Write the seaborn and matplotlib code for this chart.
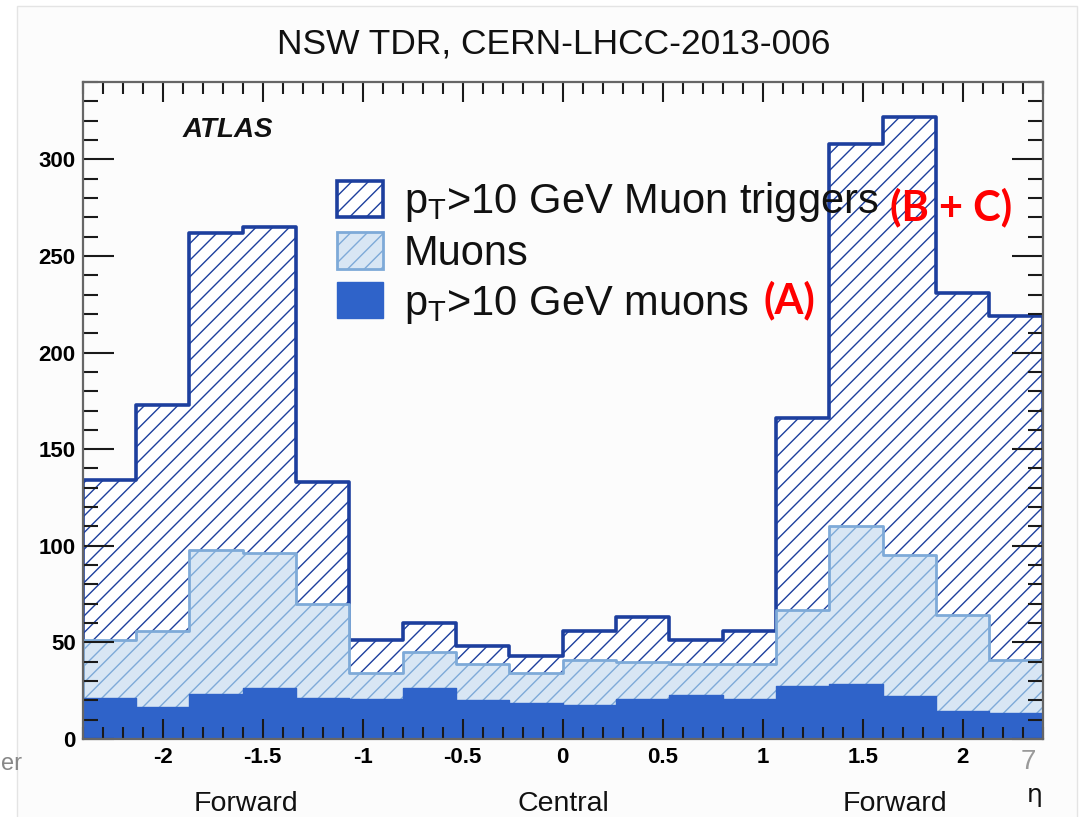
import numpy as np
import pandas as pd
import matplotlib
matplotlib.use("Agg")
import matplotlib.pyplot as plt
from matplotlib.patches import Rectangle
import seaborn as sns
from matplotlib.ticker import MultipleLocator

# ---------------- data ----------------
eta_edges = [round(v, 6) for v in np.linspace(-2.4, 2.4, 19)]
triggers = [134, 173, 262, 265, 133, 51, 60, 48, 43, 56, 63, 51, 56, 166, 308, 322, 231, 219]
muons = [51, 56, 98, 96, 70, 34, 45, 39, 34, 41, 40, 39, 39, 67, 110, 95, 64, 41]
pt_muons = [21, 16.5, 23.5, 26.5, 21, 20.5, 26.5, 20, 18.5, 17.5, 20.5, 23, 20.5, 27.5, 28.5, 22, 14.5, 13.5]
xtick_values = [-2, -1.5, -1, -0.5, 0, 0.5, 1, 1.5, 2]
xtick_labels = ["-2", "-1.5", "-1", "-0.5", "0", "0.5", "1", "1.5", "2"]
ytick_values = [0, 50, 100, 150, 200, 250, 300]
ytick_labels = ["0", "50", "100", "150", "200", "250", "300"]
series_labels = ["p$_{T}$>10 GeV Muon triggers", "Muons", "p$_{T}$>10 GeV muons"]
region_labels = ["Forward", "Central", "Forward"]

centers = [0.5 * (a + b) for a, b in zip(eta_edges[:-1], eta_edges[1:])]
df = pd.DataFrame({"eta": centers, "triggers": triggers, "muons": muons, "pt_muons": pt_muons})

sns.set_style("white")
plt.rcParams["font.family"] = ["Liberation Sans", "DejaVu Sans"]
plt.rcParams["mathtext.default"] = "regular"
plt.rcParams["hatch.linewidth"] = 1.0
plt.rcParams["text.color"] = "#111111"

W, H = 1084, 817
fig = plt.figure(figsize=(W / 100, H / 100), dpi=100)
fig.patch.set_facecolor("white")
# faint slide picture frame (behind the axes)
fig.patches.append(Rectangle((17 / W, -0.01), (1077 - 17) / W, (1 - 6 / H) + 0.01,
                             transform=fig.transFigure, facecolor="#fcfcfc",
                             edgecolor="#e4e4e4", linewidth=1.0, zorder=-5))

ax = fig.add_axes([82.7 / W, 1 - 739 / H, (1042.7 - 82.7) / W, (739 - 82) / H])
ax.set_zorder(1)
ax.set_facecolor("#fcfcfc")

plt.rcParams["hatch.color"] = "#5f80c8"
sns.histplot(data=df, x="eta", weights="triggers", bins=eta_edges, element="step", fill=True,
             facecolor="white", edgecolor="#1d3f9e", linewidth=2.6, hatch="//",
             label=series_labels[0], ax=ax)
plt.rcParams["hatch.color"] = "#86a8dc"
sns.histplot(data=df, x="eta", weights="muons", bins=eta_edges, element="step", fill=True,
             facecolor="#d8e6f4", edgecolor="#7eaad8", linewidth=2.0, hatch="//",
             label=series_labels[1], ax=ax)
plt.rcParams["hatch.color"] = "#2f63c9"
sns.histplot(data=df, x="eta", weights="pt_muons", bins=eta_edges, element="step", fill=True,
             facecolor="#2f63c9", edgecolor="#2f63c9", linewidth=1.0,
             label=series_labels[2], ax=ax)

ax.set_axisbelow(False)
ax.set_xlim(-2.4, 2.4)
ax.set_ylim(0, 340)
ax.set_xlabel("")
ax.set_ylabel("")

ax.set_xticks(xtick_values)
ax.set_xticklabels(xtick_labels)
ax.xaxis.set_minor_locator(MultipleLocator(0.1))
ax.set_yticks(ytick_values)
ax.set_yticklabels(ytick_labels)
ax.yaxis.set_minor_locator(MultipleLocator(10))

ax.tick_params(which="both", direction="in", top=True, right=True, left=True, bottom=True,
               width=1.5, color="#1a1a1a", labelsize=16, labelcolor="black")
ax.tick_params(axis="y", which="major", length=22, pad=5)
ax.tick_params(axis="y", which="minor", length=11)
ax.tick_params(axis="x", which="major", length=14.5, pad=6)
ax.tick_params(axis="x", which="minor", length=8.5)
for lab in ax.get_xticklabels() + ax.get_yticklabels():
    lab.set_fontweight("bold")
for sp in ax.spines.values():
    sp.set_visible(True)
    sp.set_color("#666666")
    sp.set_linewidth(1.6)
    sp.set_zorder(5)

fig.text(183 / W, 1 - 130 / H, "ATLAS", fontsize=20, fontweight="bold", fontstyle="italic",
         ha="left", va="center", zorder=3)

handles, labels = ax.get_legend_handles_labels()
leg = ax.legend(handles, labels, loc="upper left", bbox_to_anchor=(337 / W, 1 - 180 / H),
                bbox_transform=fig.transFigure, frameon=False, fontsize=30,
                handlelength=1.1, handleheight=0.96, handletextpad=0.5,
                labelspacing=0.2, borderpad=0, borderaxespad=0, labelcolor="#111111")

# slide annotations
fig.text(554 / W, 1 - 44 / H, "NSW TDR, CERN-LHCC-2013-006", fontsize=25.5, ha="center", va="center")
fig.text(951 / W, 1 - 207 / H, "(B + C)", fontsize=30, fontweight="bold", color="#ff0000",
         family=["Lato", "DejaVu Sans"], ha="center", va="center", zorder=3)
fig.text(789 / W, 1 - 300 / H, "(A)", fontsize=30, fontweight="bold", color="#ff0000",
         family=["Lato", "DejaVu Sans"], ha="center", va="center", zorder=3)
for xp, txt in zip([246, 563, 895], region_labels):
    fig.text(xp / W, 1 - 804 / H, txt, fontsize=20.5, ha="center", va="center")
fig.text(1035 / W, 1 - 795 / H, "η", fontsize=18, ha="center", va="center", family=["DejaVu Sans"])
fig.text(1 / W, 1 - 764 / H, "er", fontsize=17, color="#888888", ha="left", va="center")
fig.text(1028 / W, 1 - 762 / H, "7", fontsize=20, color="#9a9a9a", ha="center", va="center")

fig.savefig("out.png", dpi=100)
